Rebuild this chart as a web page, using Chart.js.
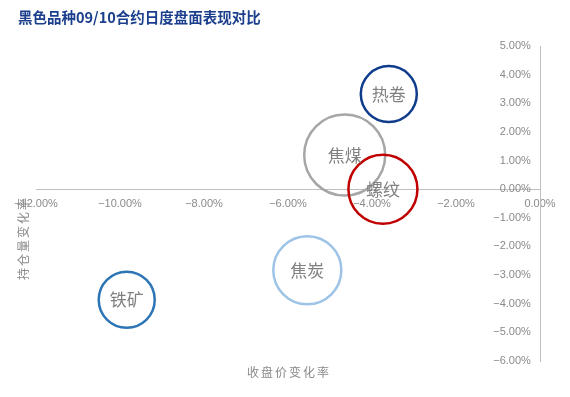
<!DOCTYPE html>
<html>
<head>
<meta charset="utf-8">
<script src="https://cdn.jsdelivr.net/npm/chart.js@4"></script>
<style>
  html, body { margin: 0; padding: 0; background: #fff; }
  #wrap { width: 570px; height: 397px; position: relative; }
</style>
</head>
<body>
<div id="wrap"><canvas id="chart"></canvas></div>
<script>
// data
const products = ["热卷", "焦煤", "螺纹", "焦炭", "铁矿"];
const priceChange = [-3.60, -4.65, -3.74, -5.54, -9.84];   // 收盘价变化率 %
const oiChange = [3.32, 1.19, 0.00, -2.83, -3.86];         // 持仓量变化率 %
const bubbleSize = [28, 40.5, 34.5, 34, 28];
const colors = ["#0f3d8c", "#a6a6a6", "#c00000", "#9dc3e6", "#2e75b6"];

const title = "黑色品种09/10合约日度盘面表现对比";
const xTitle = "收盘价变化率";
const yTitle = "持仓量变化率";

const tickColor = "#8a8a8a";
const axisColor = "#bfbfbf";

//Build bubble points
const points = products.map((p, i) => ({ x: priceChange[i], y: oiChange[i], r: bubbleSize[i] }));

function pct(v) {
  return (v < 0 ? "\u2212" : "") + Math.abs(v).toFixed(2) + "%";
}

// text on top: title, axis titles, bubble labels
const textPlugin = {
  id: "texts",
  afterDatasetsDraw(chart) {
    const ctx = chart.ctx;
    ctx.save();
    ctx.fillStyle = "#1b3f8c";
    ctx.font = "bold 14.5px 'Noto Sans CJK SC'";
    ctx.textAlign = "left";
    ctx.textBaseline = "middle";
    ctx.fillText(title, 18, 17);

    ctx.fillStyle = "#8a8a8a";
    ctx.font = "12px 'Noto Sans CJK SC'";
    ctx.textAlign = "center";
    ctx.letterSpacing = "2px";
    ctx.fillText(xTitle, 289, 372);

    ctx.save();
    ctx.translate(23, 238);
    ctx.rotate(-Math.PI / 2);
    ctx.fillText(yTitle, 0, 0);
    ctx.restore();
    ctx.letterSpacing = "0px";

    const meta = chart.getDatasetMeta(0);
    ctx.fillStyle = "#808080";
    ctx.font = "17px 'Noto Sans CJK SC'";
    meta.data.forEach((el, i) => {
      ctx.fillText(products[i], el.x, el.y);
    });
    ctx.restore();
  }
};

new Chart(document.getElementById("chart"), {
  type: "bubble",
  data: {
    datasets: [{
      data: points,
      backgroundColor: "rgba(255,255,255,0)",
      borderColor: colors,
      borderWidth: 2.5,
      hoverRadius: 0
    }]
  },
  options: {
    responsive: true,
    maintainAspectRatio: false,
    animation: false,
    events: [],
    layout: {
      autoPadding: false,
      padding: { left: 36, right: 30, top: 46, bottom: 36 }
    },
    plugins: {
      legend: { display: false },
      tooltip: { enabled: false }
    },
    scales: {
      x: {
        type: "linear",
        min: -12,
        max: 0,
        position: { y: 0 },
        grid: { display: false, drawTicks: false },
        border: { color: axisColor, width: 1 },
        ticks: {
          stepSize: 2,
          padding: 8,
          color: tickColor,
          font: { family: "'Liberation Sans'", size: 11 },
          callback: (v) => pct(v)
        }
      },
      y: {
        type: "linear",
        min: -6,
        max: 5,
        position: { x: 0 },
        grid: { display: false, drawTicks: false },
        border: { color: axisColor, width: 1 },
        ticks: {
          stepSize: 1,
          color: tickColor,
          font: { family: "'Liberation Sans'", size: 11 },
          // centred axis ignores padding, so leave a gap with spaces
          callback: (v) => pct(v) + "   "
        }
      }
    }
  },
  plugins: [textPlugin]
});
</script>
</body>
</html>
